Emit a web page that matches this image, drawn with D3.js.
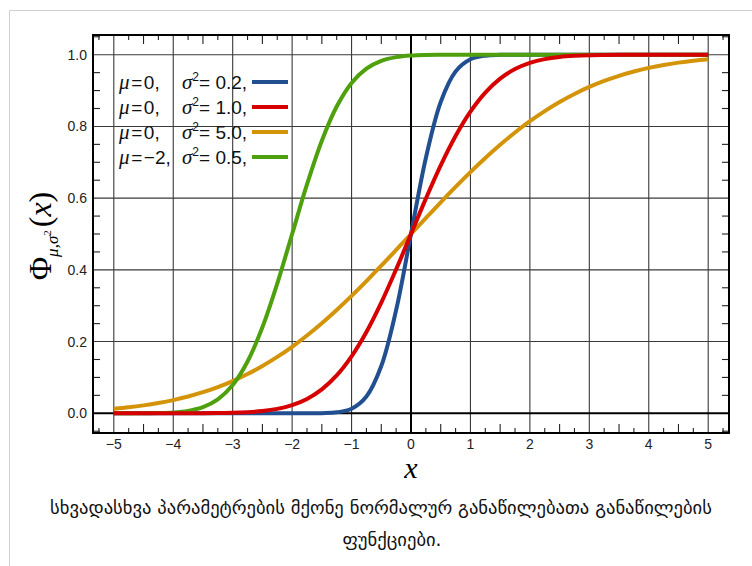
<!DOCTYPE html>
<html>
<head>
<meta charset="utf-8">
<script src="https://cdn.jsdelivr.net/npm/d3@7"></script>
<style>
  html, body { margin: 0; padding: 0; background: #fff; }
  svg { display: block; }
</style>
</head>
<body>
<script>
// ---------- data ----------
const xValues = [-5,-4.75,-4.5,-4.25,-4,-3.75,-3.5,-3.25,-3,-2.75,-2.5,-2.25,-2,-1.75,-1.5,-1.25,-1,-0.75,-0.5,-0.25,
  0,0.25,0.5,0.75,1,1.25,1.5,1.75,2,2.25,2.5,2.75,3,3.25,3.5,3.75,4,4.25,4.5,4.75,5];

const seriesNames = ["mu0_var02", "mu0_var10", "mu0_var50", "mum2_var05"];
const legendMu = ["0", "0", "0", "\u22122"];
const legendVar = ["0.2", "1.0", "5.0", "0.5"];
const seriesColors = ["#214f8f", "#d60000", "#d4940a", "#4ea00c"];

const blueValues = [0,0,0,0,0,0,0,0,0,0,0,0,0,0,0.0004,0.0026,0.0127,0.0468,0.1318,0.2881,
  0.5,0.7119,0.8682,0.9532,0.9873,0.9974,0.9996,1,1,1,1,1,1,1,1,1,1,1,1,1,1];
const redValues = [0,0,0,0,0,0.0001,0.0002,0.0006,0.0013,0.0030,0.0062,0.0122,0.0228,0.0401,0.0668,0.1056,0.1587,0.2266,0.3085,0.4013,
  0.5,0.5987,0.6915,0.7734,0.8413,0.8944,0.9332,0.9599,0.9772,0.9878,0.9938,0.9970,0.9987,0.9994,0.9998,0.9999,1,1,1,1,1];
const orangeValues = [0.0127,0.0168,0.0221,0.0287,0.0368,0.0468,0.0588,0.0731,0.0899,0.1094,0.1318,0.1572,0.1855,0.2169,0.2512,0.2881,0.3274,0.3687,0.4115,0.4555,
  0.5,0.5445,0.5885,0.6313,0.6726,0.7119,0.7488,0.7831,0.8145,0.8428,0.8682,0.8906,0.9101,0.9269,0.9412,0.9532,0.9632,0.9713,0.9779,0.9832,0.9873];
const greenValues = [0,0.0001,0.0002,0.0007,0.0023,0.0067,0.0169,0.0386,0.0786,0.1444,0.2398,0.3618,0.5,0.6382,0.7602,0.8556,0.9214,0.9614,0.9831,0.9933,
  0.9977,0.9993,0.9998,1,1,1,1,1,1,1,1,1,1,1,1,1,1,1,1,1,1];

const xTicks = [-5,-4,-3,-2,-1,0,1,2,3,4,5];
const xTickLabels = ["\u22125","\u22124","\u22123","\u22122","\u22121","0","1","2","3","4","5"];
const yTicks = [0,0.2,0.4,0.6,0.8,1.0];
const yTickLabels = ["0.0","0.2","0.4","0.6","0.8","1.0"];

const captionLines = ["სხვადასხვა პარამეტრების მქონე ნორმალურ განაწილებათა განაწილების", "ფუნქციები."];

// ---------- layout ----------
const W = 752, H = 566;
const L = 93, R = 729, T = 35, B = 433;

const svg = d3.select("body").append("svg").attr("width", W).attr("height", H);
svg.append("rect").attr("width", W).attr("height", H).attr("fill", "#fff");

// thumbnail border
svg.append("path").attr("d", `M9.5,${H}V10.5H${W + 5}`).attr("fill", "none").attr("stroke", "#d0d0d0").attr("stroke-width", 1);

const x = d3.scaleLinear().domain([-5.35, 5.35]).range([L, R]);
const y = d3.scaleLinear().domain([-0.055, 1.055]).range([B, T]);

// grid
const g = svg.append("g");
g.selectAll("line.vg").data(xTicks.filter(d => d !== 0)).join("line")
  .attr("x1", d => x(d)).attr("x2", d => x(d)).attr("y1", T).attr("y2", B)
  .attr("stroke", "#3a3a3a").attr("stroke-width", 1.1);
g.selectAll("line.hg").data(yTicks.filter(d => d !== 0)).join("line")
  .attr("y1", d => y(d)).attr("y2", d => y(d)).attr("x1", L).attr("x2", R)
  .attr("stroke", "#3a3a3a").attr("stroke-width", 1.1);

// minor ticks
const xMinor = d3.range(-5.25, 5.26, 0.25).map(v => Math.round(v * 100) / 100).filter(v => Math.abs(v - Math.round(v)) > 1e-6);
const yMinor = d3.range(-0.05, 1.051, 0.05).map(v => Math.round(v * 100) / 100).filter(v => Math.abs(v * 5 - Math.round(v * 5)) > 1e-6);
const tickLen = v => (Math.abs(v * 2 - Math.round(v * 2)) < 1e-6 ? 9 : 5);
[B, T].forEach((yy, i) => {
  g.selectAll(null).data(xMinor).join("line")
    .attr("x1", d => x(d)).attr("x2", d => x(d))
    .attr("y1", yy).attr("y2", d => i === 0 ? yy - tickLen(d) : yy + tickLen(d))
    .attr("stroke", "#222").attr("stroke-width", 1.1);
});
[L, R].forEach((xx, i) => {
  g.selectAll(null).data(yMinor).join("line")
    .attr("y1", d => y(d)).attr("y2", d => y(d))
    .attr("x1", xx).attr("x2", i === 0 ? xx + 7 : xx - 7)
    .attr("stroke", "#222").attr("stroke-width", 1.1);
});

// zero lines
g.append("line").attr("x1", x(0)).attr("x2", x(0)).attr("y1", T).attr("y2", B).attr("stroke", "#000").attr("stroke-width", 2);
g.append("line").attr("y1", y(0)).attr("y2", y(0)).attr("x1", L).attr("x2", R).attr("stroke", "#000").attr("stroke-width", 2);

// frame
svg.append("rect").attr("x", L).attr("y", T).attr("width", R - L).attr("height", B - T)
  .attr("fill", "none").attr("stroke", "#000").attr("stroke-width", 2);

// tick labels
svg.selectAll("text.xt").data(xTicks).join("text")
  .attr("x", d => x(d)).attr("y", 449).attr("text-anchor", "middle")
  .attr("font-family", "Liberation Sans, Arial, sans-serif").attr("font-size", 14).attr("fill", "#222")
  .text((d, i) => xTickLabels[i]);
svg.selectAll("text.yt").data(yTicks).join("text")
  .attr("x", 87).attr("y", d => y(d) + 5).attr("text-anchor", "end")
  .attr("font-family", "Liberation Sans, Arial, sans-serif").attr("font-size", 14).attr("fill", "#222")
  .text((d, i) => yTickLabels[i]);

// axis labels
svg.append("text").attr("x", 411).attr("y", 478).attr("text-anchor", "middle")
  .attr("font-family", "Liberation Serif, serif").attr("font-style", "italic").attr("font-size", 30).attr("fill", "#000").text("x");

const yl = svg.append("text").attr("transform", "translate(51,236) rotate(-90)").attr("text-anchor", "middle")
  .attr("font-family", "Liberation Serif, serif").attr("font-size", 32).attr("fill", "#000");
yl.append("tspan").text("Φ");
yl.append("tspan").attr("font-size", 17).attr("font-style", "italic").attr("dy", 7).text("μ,σ");
yl.append("tspan").attr("font-size", 11).attr("dy", -7).text("2");
yl.append("tspan").attr("dy", 0).attr("dx", 3).text("(");
yl.append("tspan").attr("font-style", "italic").text("x");
yl.append("tspan").text(")");

// curves
const seriesValues = [blueValues, redValues, orangeValues, greenValues];
const line = d3.line().x((d, i) => x(xValues[i])).y(d => y(d)).curve(d3.curveCatmullRom.alpha(0.5));
const drawOrder = [2, 0, 3, 1];
svg.append("g").selectAll("path").data(drawOrder).join("path")
  .attr("d", k => line(seriesValues[k]))
  .attr("fill", "none").attr("stroke", k => seriesColors[k]).attr("stroke-width", 4)
  .attr("stroke-linejoin", "round").attr("stroke-linecap", "butt");

// legend
const lg = svg.append("g");
seriesNames.forEach((name, i) => {
  const cy = 82 + i * 25;
  const t1 = lg.append("text").attr("x", 119).attr("y", cy + 7)
    .attr("font-family", "Liberation Sans, Arial, sans-serif").attr("font-size", 19).attr("fill", "#111");
  t1.append("tspan").attr("font-family", "Liberation Serif, serif").attr("font-style", "italic").attr("font-size", 21).text("μ");
  t1.append("tspan").text("\u200A=\u200A" + legendMu[i] + ",");
  const t2 = lg.append("text").attr("x", 182).attr("y", cy + 7)
    .attr("font-family", "Liberation Sans, Arial, sans-serif").attr("font-size", 19).attr("fill", "#111");
  t2.append("tspan").attr("font-family", "Liberation Serif, serif").attr("font-style", "italic").attr("font-size", 21).text("σ");
  t2.append("tspan").attr("font-size", 12).attr("dy", -8).text("2");
  t2.append("tspan").attr("dy", 8).text("= " + legendVar[i] + ",");
  lg.append("line").attr("x1", 252).attr("x2", 288).attr("y1", cy).attr("y2", cy)
    .attr("stroke", seriesColors[i]).attr("stroke-width", 4);
});

// caption
const cap = svg.append("g").attr("font-family", "DejaVu Sans, sans-serif").attr("fill", "#111");
const c1 = cap.append("text").attr("x", 381).attr("y", 514).attr("text-anchor", "middle").attr("font-size", 16).text(captionLines[0]);
const w1 = c1.node().getComputedTextLength();
const fs = 16 * 662 / w1;
c1.attr("font-size", fs);
cap.append("text").attr("x", 392).attr("y", 546).attr("text-anchor", "middle").attr("font-size", fs).text(captionLines[1]);
</script>
</body>
</html>
